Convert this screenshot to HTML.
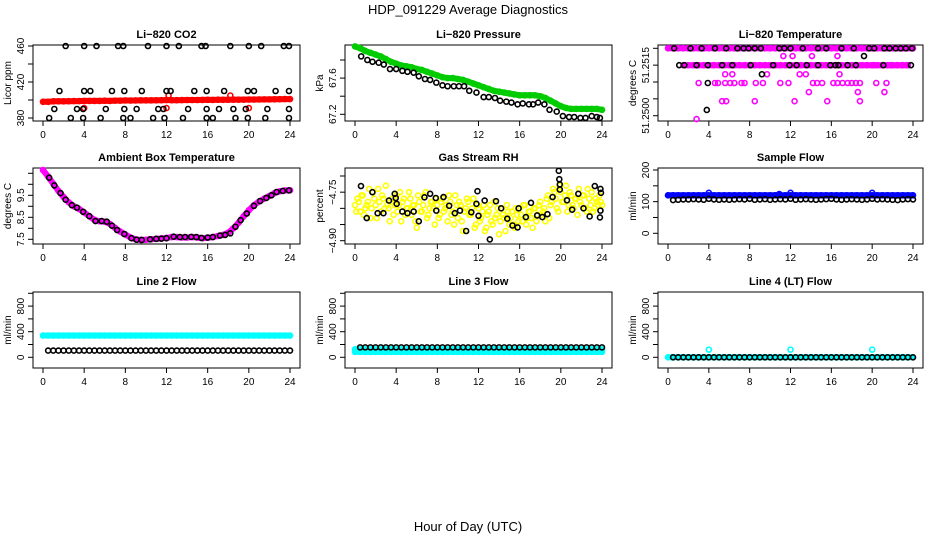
<!DOCTYPE html>
<html><head><meta charset="utf-8">
<style>
html,body{margin:0;padding:0;background:#fff;}
svg{display:block;font-family:"Liberation Sans",Arial,sans-serif;}
.pt{font-size:11px;font-weight:bold;text-anchor:middle;}
.tk{font-size:10px;text-anchor:middle;}
</style></head>
<body>
<svg id="chart" width="936" height="540" viewBox="0 0 936 540" xmlns="http://www.w3.org/2000/svg">
<text x="468" y="14" font-size="13" text-anchor="middle">HDP_091229  Average Diagnostics</text>
<text x="468" y="531" font-size="13" text-anchor="middle">Hour of Day (UTC)</text>
</svg>
<script>
const halfHours=[0,0.5,1,1.5,2,2.5,3,3.5,4,4.5,5,5.5,6,6.5,7,7.5,8,8.5,9,9.5,10,10.5,11,11.5,12,12.5,13,13.5,14,14.5,15,15.5,16,16.5,17,17.5,18,18.5,19,19.5,20,20.5,21,21.5,22,22.5,23,23.5,24];
const xTicks=[0,4,8,12,16,20,24];
// CO2
const co2Red=[398,398,398.5,398.5,398.5,398.7,398.8,398.8,399,399,399,399,399.2,399,399.3,399.3,399.5,399.4,399.5,399.6,399.6,399.6,399.7,399.8,400,399.8,399.8,399.9,400,400,400,400.1,400.2,400.1,400.3,400.2,400.3,400.4,400.4,400.4,400.5,400.5,400.6,400.7,400.7,400.8,400.9,401,401];
const co2RedExtraX=[4,12,20,12.2,18.2];
const co2RedExtraY=[391,391,391,405,405];
const co2BlackX=[2.2,4,5.2,7.3,7.8,10.2,12,13.2,15.4,15.8,18.2,20,21.2,23.4,23.9, 1.6,4,4.6,6.7,7.9,9.6,12,12.4,14.7,15.9,17.6,19.9,20.5,22.6,23.9, 1.1,3.3,3.9,6.1,7.9,9.1,11.2,11.7,14.1,15.9,17.1,18.5,19.7,21.8,23.9, 0.6,2.7,3.9,5.6,7.8,8.5,10.7,11.8,13.6,15.9,16.5,18.7,19.9,21.6,23.9];
const co2BlackY=[460,460,460,460,460,460,460,460,460,460,460,460,460,460,460, 410,410,410,410,410,410,410,410,410,410,410,410,410,410,410, 390,390,390,390,390,390,390,390,390,390,390,390,390,390,390, 380,380,380,380,380,380,380,380,380,380,380,380,380,380,380];
// Pressure
const presGreen=[67.95,67.93,67.90,67.88,67.86,67.84,67.81,67.78,67.76,67.74,67.73,67.72,67.70,67.69,67.67,67.65,67.63,67.61,67.60,67.60,67.59,67.58,67.56,67.54,67.52,67.50,67.48,67.46,67.45,67.44,67.43,67.42,67.41,67.41,67.41,67.41,67.40,67.38,67.35,67.32,67.29,67.27,67.26,67.26,67.26,67.26,67.26,67.26,67.25];
const presBlackX=[0.6,1.2,1.7,2.3,2.8,3.4,4,4.6,5.1,5.7,6.2,6.8,7.3,7.9,8.5,9,9.6,10.1,10.6,11.1,11.8,12.5,13,13.6,14.1,14.7,15.2,15.8,16.3,16.9,17.3,17.8,18.4,18.9,19.6,20.2,20.8,21.3,21.9,22.4,23,23.5,23.8];
const presBlackY=[67.84,67.80,67.78,67.77,67.75,67.70,67.70,67.68,67.67,67.66,67.62,67.59,67.58,67.55,67.52,67.51,67.51,67.51,67.51,67.46,67.44,67.39,67.39,67.38,67.35,67.34,67.33,67.31,67.32,67.31,67.31,67.33,67.31,67.25,67.23,67.18,67.17,67.17,67.16,67.16,67.18,67.17,67.16];
// Li-820 temperature
const tempTop=[51.2520,51.2520,51.2520,51.2520,51.2520,51.2520,51.2520,51.2520,51.2520,51.2520,51.2520,51.2520,51.2520,51.2520,51.2520,51.2520,51.2520,51.2520,51.2520,51.2520,51.2520,51.2520,51.2520,51.2520,51.2520,51.2520,51.2520,51.2520,51.2520,51.2520,51.2520,51.2520,51.2520,51.2520,51.2520,51.2520,51.2520,51.2520,51.2520,51.2520,51.2520,51.2520,51.2520,51.2520,51.2520,51.2520,51.2520,51.2520,51.2520];
const tempMidX=[1.5,2,2.5,3,3.5,4,4.5,5,5.5,6,6.5,7,7.5,8,8.5,9,9.5,10,10.5,11,11.5,12,12.5,13,13.5,14,14.5,15,15.5,16,16.5,17,17.5,18,18.5,19,19.5,20,20.5,21,21.5,22,22.5,23,23.5];
const tempMidY=[51.2515,51.2515,51.2515,51.2515,51.2515,51.2515,51.2515,51.2515,51.2515,51.2515,51.2515,51.2515,51.2515,51.2515,51.2515,51.2515,51.2515,51.2515,51.2515,51.2515,51.2515,51.2515,51.2515,51.2515,51.2515,51.2515,51.2515,51.2515,51.2515,51.2515,51.2515,51.2515,51.2515,51.2515,51.2515,51.2515,51.2515,51.2515,51.2515,51.2515,51.2515,51.2515,51.2515,51.2515,51.2515];
const tempMagX=[11.3,12.2,14.1,16.6, 5.6,6.3,12.9,13.5,16.8,9.7, 3.0,4.6,4.9,5.6,6.1,6.5,7.2,7.5,8.6,9.3,11,11.8,14.2,14.6,15.1,16.2,16.6,17.1,17.6,18.0,18.4,18.8,20.4,21.4, 13.8,18.6,21.2, 5.3,5.7,8.5,12.4,15.6,18.8, 2.8, 19.5,20.2,21.0,21.8,22.4,22.9,23.4];
const tempMagY=[51.25177,51.25177,51.25177,51.25177, 51.25123,51.25123,51.25123,51.25123,51.25123,51.25123, 51.25097,51.25097,51.25097,51.25097,51.25097,51.25097,51.25097,51.25097,51.25097,51.25097,51.25097,51.25097,51.25097,51.25097,51.25097,51.25097,51.25097,51.25097,51.25097,51.25097,51.25097,51.25097,51.25097,51.25097, 51.2507,51.2507,51.2507, 51.25043,51.25043,51.25043,51.25043,51.25043,51.25043, 51.2499, 51.2515,51.2515,51.2515,51.2515,51.2515,51.2515,51.2515];
const tempBlackX=[0.6,2.2,3.3,4.6,5.7,6.8,7.4,7.9,8.5,9.1,10.9,11.4,12,13.2,14.7,15.5,17,18.2,19.7,20.2,21.2,21.7,22.3,22.8,23.3,23.9, 1.1,1.6,2.8,3.9,5.3,6.3,8.1,10.3,11.9,12.6,13.6,14.7,15.9,16.4,16.7,17.6,18.4,21.1,23.8, 19.2,9.2,3.9,3.8];
const tempBlackY=[51.2520,51.2520,51.2520,51.2520,51.2520,51.2520,51.2520,51.2520,51.2520,51.2520,51.2520,51.2520,51.2520,51.2520,51.2520,51.2520,51.2520,51.2520,51.2520,51.2520,51.2520,51.2520,51.2520,51.2520,51.2520,51.2520, 51.2515,51.2515,51.2515,51.2515,51.2515,51.2515,51.2515,51.2515,51.2515,51.2515,51.2515,51.2515,51.2515,51.2515,51.2515,51.2515,51.2515,51.2515,51.2515, 51.25177,51.25123,51.25097,51.25017];
// Ambient box temperature
const ambMag=[10.65,10.35,10.02,9.7,9.42,9.18,9.0,8.88,8.72,8.55,8.38,8.32,8.3,8.2,8.02,7.85,7.72,7.58,7.5,7.47,7.48,7.5,7.52,7.54,7.56,7.6,7.6,7.58,7.58,7.6,7.58,7.55,7.57,7.6,7.65,7.7,7.8,8.0,8.25,8.55,8.82,9.05,9.22,9.35,9.47,9.6,9.68,9.72,9.73];
const ambBlackX=[0.6,1.1,1.7,2.2,2.8,3.3,3.9,4.5,5.1,5.7,6.2,6.7,7.2,7.9,8.6,9.1,9.6,10.4,11,11.5,12,12.7,13.3,13.8,14.4,14.9,15.4,16,16.5,17.2,17.7,18.2,18.7,19.2,19.8,20.5,21.1,21.7,22.2,22.7,23.3,23.9];
const ambBlackY=[10.3,9.95,9.6,9.3,9.05,8.94,8.75,8.55,8.33,8.33,8.3,8.12,7.92,7.74,7.55,7.48,7.47,7.5,7.52,7.53,7.55,7.62,7.6,7.6,7.61,7.6,7.56,7.58,7.6,7.67,7.7,7.77,8.07,8.37,8.67,9.02,9.24,9.38,9.5,9.65,9.7,9.72];
// Gas stream RH
const rhQuarterHours=[0,0.25,0.5,0.75,1,1.25,1.5,1.75,2,2.25,2.5,2.75,3,3.25,3.5,3.75,4,4.25,4.5,4.75,5,5.25,5.5,5.75,6,6.25,6.5,6.75,7,7.25,7.5,7.75,8,8.25,8.5,8.75,9,9.25,9.5,9.75,10,10.25,10.5,10.75,11,11.25,11.5,11.75,12,12.25,12.5,12.75,13,13.25,13.5,13.75,14,14.25,14.5,14.75,15,15.25,15.5,15.75,16,16.25,16.5,16.75,17,17.25,17.5,17.75,18,18.25,18.5,18.75,19,19.25,19.5,19.75,20,20.25,20.5,20.75,21,21.25,21.5,21.75,22,22.25,22.5,22.75,23,23.25,23.5,23.75,24];
const rhYellowA=[-4.79,-4.77,-4.81,-4.76,-4.80,-4.78,-4.83,-4.75,-4.79,-4.74,-4.81,-4.77,-4.73,-4.80,-4.78,-4.82,
-4.76,-4.79,-4.84,-4.77,-4.80,-4.75,-4.82,-4.79,-4.86,-4.78,-4.81,-4.76,-4.83,-4.80,-4.78,-4.85,
-4.79,-4.82,-4.77,-4.80,-4.84,-4.78,-4.81,-4.76,-4.83,-4.79,-4.87,-4.80,-4.78,-4.82,-4.77,-4.85,
-4.80,-4.83,-4.79,-4.86,-4.81,-4.84,-4.78,-4.82,-4.88,-4.80,-4.83,-4.79,-4.85,-4.81,-4.86,-4.82,
-4.80,-4.84,-4.79,-4.83,-4.81,-4.86,-4.80,-4.82,-4.78,-4.81,-4.84,-4.76,-4.79,-4.74,-4.77,-4.81,
-4.75,-4.78,-4.73,-4.79,-4.76,-4.80,-4.77,-4.74,-4.79,-4.76,-4.81,-4.77,-4.75,-4.80,-4.78,-4.76,-4.79];
const rhYellowB=[-4.81,-4.78,-4.76,-4.82,-4.79,-4.74,-4.80,-4.77,-4.83,-4.78,-4.76,-4.80,-4.79,-4.84,-4.77,-4.79,
-4.81,-4.75,-4.78,-4.82,-4.80,-4.77,-4.79,-4.84,-4.76,-4.81,-4.79,-4.75,-4.82,-4.78,-4.80,-4.77,
-4.83,-4.78,-4.81,-4.79,-4.76,-4.82,-4.85,-4.79,-4.78,-4.84,-4.81,-4.77,-4.82,-4.80,-4.86,-4.79,
-4.84,-4.81,-4.87,-4.82,-4.79,-4.85,-4.83,-4.80,-4.84,-4.82,-4.87,-4.81,-4.83,-4.85,-4.80,-4.84,
-4.82,-4.79,-4.85,-4.81,-4.83,-4.80,-4.84,-4.79,-4.82,-4.80,-4.77,-4.83,-4.78,-4.75,-4.80,-4.73,
-4.78,-4.76,-4.81,-4.75,-4.79,-4.77,-4.82,-4.78,-4.76,-4.80,-4.74,-4.79,-4.81,-4.77,-4.79,-4.78];
const rhBlackX=[0.58,1.14,1.69,2.2,2.76,3.3,3.86,3.96,4.05,4.6,5.1,5.7,6.2,6.75,7.3,7.85,7.9,8.6,9.15,9.7,10.2,10.8,11.3,11.8,11.9,12,12.6,13.1,13.7,14.2,14.8,15.3,15.9,15.8,16.6,17.1,17.7,18.2,18.7,19.2,19.8,19.85,19.9,19.9,20.6,21.1,21.7,22.2,22.8,23.3,23.85,23.9,23.85,23.8];
const rhBlackY=[-4.731,-4.83,-4.75,-4.815,-4.815,-4.776,-4.755,-4.768,-4.786,-4.81,-4.815,-4.81,-4.84,-4.766,-4.755,-4.768,-4.807,-4.765,-4.792,-4.815,-4.807,-4.87,-4.812,-4.786,-4.747,-4.823,-4.776,-4.896,-4.778,-4.80,-4.832,-4.853,-4.80,-4.859,-4.827,-4.783,-4.822,-4.827,-4.818,-4.765,-4.684,-4.71,-4.726,-4.742,-4.775,-4.804,-4.755,-4.80,-4.825,-4.731,-4.74,-4.752,-4.807,-4.828];
// Sample flow
const sampleBlue=[120,120,120,120,120,120,120,120,120,120,120,120,120,120,120,120,120,120,120,120,120,120,120,120,120,120,120,120,120,120,120,120,120,120,120,120,120,120,120,120,120,120,120,120,120,120,120,120,120];
const sampleBlueExtraX=[4,12,20,10.9];
const sampleBlueExtraY=[128,128,128,124];
const sampleBlack=[107,105,106,107,107,108,107,106,109,107,106,107,106,107,108,107,109,106,107,108,106,107,108,107,109,106,107,108,107,106,107,108,109,107,106,107,108,107,106,107,109,107,108,107,106,105,107,108,107];
// Line 2 flow
const line2Cyan=[340,340,340,340,340,340,340,340,340,340,340,340,340,340,340,340,340,340,340,340,340,340,340,340,340,340,340,340,340,340,340,340,340,340,340,340,340,340,340,340,340,340,340,340,340,340,340,340,340];
const line2Black=[105,105,105,105,105,105,105,105,105,105,105,105,105,105,105,105,105,105,105,105,105,105,105,105,105,105,105,105,105,105,105,105,105,105,105,105,105,105,105,105,105,105,105,105,105,105,105,105,105];
// Line 3 flow
const line3CyanA=[85,85,85,85,85,85,85,85,85,85,85,85,85,85,85,85,85,85,85,85,85,85,85,85,85,85,85,85,85,85,85,85,85,85,85,85,85,85,85,85,85,85,85,85,85,85,85,85,85];
const line3CyanB=[125,125,125,125,125,125,125,125,125,125,125,125,125,125,125,125,125,125,125,125,125,125,125,125,125,125,125,125,125,125,125,125,125,125,125,125,125,125,125,125,125,125,125,125,125,125,125,125,125];
const line3Black=[155,155,155,155,155,155,155,155,155,155,155,155,155,155,155,155,155,155,155,155,155,155,155,155,155,155,155,155,155,155,155,155,155,155,155,155,155,155,155,155,155,155,155,155,155,155,155,155,155];
// Line 4 flow
const line4Cyan=[0,0,0,0,0,0,0,0,0,0,0,0,0,0,0,0,0,0,0,0,0,0,0,0,0,0,0,0,0,0,0,0,0,0,0,0,0,0,0,0,0,0,0,0,0,0,0,0,0];
const line4CyanExtraX=[4,12,20];
const line4CyanExtraY=[120,120,120];
const line4Black=[0,0,0,0,0,0,0,0,0,0,0,0,0,0,0,0,0,0,0,0,0,0,0,0,0,0,0,0,0,0,0,0,0,0,0,0,0,0,0,0,0,0,0,0,0,0,0,0,0];

const NS='http://www.w3.org/2000/svg';
const svg=document.getElementById('chart');
function mk(tag,attrs,parent){const e=document.createElementNS(NS,tag);for(const k in attrs)e.setAttribute(k,attrs[k]);(parent||svg).appendChild(e);return e;}

function panel(cfg){
  const g=mk('g',{});
  
  
  const L=cfg.L,T=cfg.T,W=cfg.W,H=76;
  const xs=h=>L+10+h/24*(W-20);
  const ys=v=>cfg.pA+(v-cfg.vA)/(cfg.vB-cfg.vA)*(cfg.pB-cfg.pA);
  const t=mk('text',{x:L+W/2,y:T-7,class:'pt'},g);t.textContent=cfg.title;
  
  
  const box=mk('rect',{x:L,y:T,width:W,height:H,fill:'none',stroke:'#000','stroke-width':1},g);
  
  
  xTicks.forEach(h=>{const x=xs(h);mk('line',{x1:x,x2:x,y1:T+H,y2:T+H+5,stroke:'#000'},g);
    const tl=mk('text',{x:x,y:T+H+17,class:'tk'},g);tl.textContent=h;
    
    });
  cfg.yt.forEach((v,i)=>{const y=ys(v);mk('line',{x1:L-5,x2:L,y1:y,y2:y,stroke:'#000'},g);
    if(cfg.yl[i]){const tl=mk('text',{x:0,y:0,class:'tk',transform:`translate(${L-9},${y}) rotate(-90)`},g);tl.textContent=cfg.yl[i];
    
    }});
  const yl=mk('text',{x:0,y:0,'font-size':10,'text-anchor':'middle',transform:`translate(${L-22},${T+H/2}) rotate(-90)`},g);
  yl.textContent=cfg.ylab;
  
  
  const sg=mk('g',{'clip-path':''},g);
  cfg.draw({xs,ys,g:sg});
}
function band(ctx,X,Y,color,name){
  const p=X.map((h,i)=>ctx.xs(h).toFixed(1)+','+ctx.ys(Y[i]).toFixed(1)).join(' ');
  const pl=mk('polyline',{points:p,fill:'none',stroke:color,'stroke-width':6,'stroke-linejoin':'round','stroke-linecap':'round'},ctx.g);
  
  
  pts(ctx,X,Y,color,name+'-point');
}
function pts(ctx,X,Y,color,name,filled){
  X.forEach((h,i)=>{const c=mk('circle',{cx:ctx.xs(h),cy:ctx.ys(Y[i]),r:2.5,fill:filled?color:'none',stroke:color,'stroke-width':1.6},ctx.g);
    
    });
}
const hh=halfHours, hb=halfHours.slice(1), sub=a=>a.slice(1);
const C1=33,C2=345,C3=658,R1=45,R2=168,R3=292;
const flowTicks=[0,200,400,600,800,1000],flowLabels=['0','','400','','800',''];

panel({name:'co2',title:'Li\u2212820 CO2',L:C1,T:R1,W:267,vA:380,pA:118,vB:460,pB:46,yt:[380,400,420,440,460],yl:['380','','420','','460'],ylab:'Licor ppm',
 draw:c=>{band(c,hh,co2Red,'#ff0000','co2-red-series');pts(c,co2RedExtraX,co2RedExtraY,'#ff0000','co2-red-point');pts(c,co2BlackX,co2BlackY,'#000','co2-black-point');}});
panel({name:'pressure',title:'Li\u2212820 Pressure',L:C2,T:R1,W:267,vA:67.2,pA:114.3,vB:67.8,pB:60,yt:[67.2,67.4,67.6,67.8],yl:['67.2','','67.6',''],ylab:'kPa',
 draw:c=>{band(c,hh,presGreen,'#00cc00','pressure-green-series');pts(c,presBlackX,presBlackY,'#000','pressure-black-point');}});
panel({name:'li820-temp',title:'Li\u2212820 Temperature',L:C3,T:R1,W:265,vA:51.25,pA:115.7,vB:51.252,pB:48.3,yt:[51.25,51.2505,51.251,51.2515,51.252],yl:['51.2500','','','51.2515',''],ylab:'degrees C',
 draw:c=>{band(c,hh,tempTop,'#ff00ff','temp-top-series');band(c,tempMidX,tempMidY,'#ff00ff','temp-mid-series');pts(c,tempMagX,tempMagY,'#ff00ff','temp-magenta-point');pts(c,tempBlackX,tempBlackY,'#000','temp-black-point');}});
panel({name:'ambient-temp',title:'Ambient Box Temperature',L:C1,T:R2,W:267,vA:7.5,pA:239.3,vB:10.5,pB:173.3,yt:[7.5,8,8.5,9,9.5,10,10.5],yl:['7.5','','8.5','','9.5','',''],ylab:'degrees C',
 draw:c=>{band(c,hh,ambMag,'#ff00ff','ambient-magenta-series');pts(c,ambBlackX,ambBlackY,'#000','ambient-black-point');}});
panel({name:'gas-rh',title:'Gas Stream RH',L:C2,T:R2,W:267,vA:-4.9,pA:240.7,vB:-4.7,pB:176,yt:[-4.9,-4.85,-4.8,-4.75,-4.7],yl:['\u22124.90','','','\u22124.75',''],ylab:'percent',
 draw:c=>{pts(c,rhQuarterHours,rhYellowA,'#ffff00','rh-yellow-point');pts(c,rhQuarterHours.slice(0,96).map(h=>h+0.125),rhYellowB,'#ffff00','rh-yellow-point');pts(c,rhBlackX,rhBlackY,'#000','rh-black-point');}});
panel({name:'sample-flow',title:'Sample Flow',L:C3,T:R2,W:265,vA:0,pA:233.3,vB:200,pB:170,yt:[0,50,100,150,200],yl:['0','','100','','200'],ylab:'ml/min',
 draw:c=>{band(c,hh,sampleBlue,'#0000ff','sample-blue-series');pts(c,sampleBlueExtraX,sampleBlueExtraY,'#0000ff','sample-blue-point');pts(c,hb,sub(sampleBlack),'#000','sample-black-point');}});
panel({name:'line2-flow',title:'Line 2 Flow',L:C1,T:R3,W:267,vA:0,pA:357.3,vB:1000,pB:293.3,yt:flowTicks,yl:flowLabels,ylab:'ml/min',
 draw:c=>{band(c,hh,line2Cyan,'#00ffff','line2-cyan-series');pts(c,hb,sub(line2Black),'#000','line2-black-point');}});
panel({name:'line3-flow',title:'Line 3 Flow',L:C2,T:R3,W:267,vA:0,pA:357.3,vB:1000,pB:293.3,yt:flowTicks,yl:flowLabels,ylab:'ml/min',
 draw:c=>{band(c,hh,line3CyanA,'#00ffff','line3-cyan-series');band(c,hh,line3CyanB,'#00ffff','line3-cyan-series-upper');pts(c,hb,sub(line3Black),'#000','line3-black-point');}});
panel({name:'line4-flow',title:'Line 4 (LT) Flow',L:C3,T:R3,W:265,vA:0,pA:357.3,vB:1000,pB:293.3,yt:flowTicks,yl:flowLabels,ylab:'ml/min',
 draw:c=>{band(c,hh,line4Cyan,'#00ffff','line4-cyan-series');pts(c,hb,sub(line4Black),'#000','line4-black-point');pts(c,line4CyanExtraX,line4CyanExtraY,'#00ffff','line4-cyan-point');}});
</script>
</body></html>
